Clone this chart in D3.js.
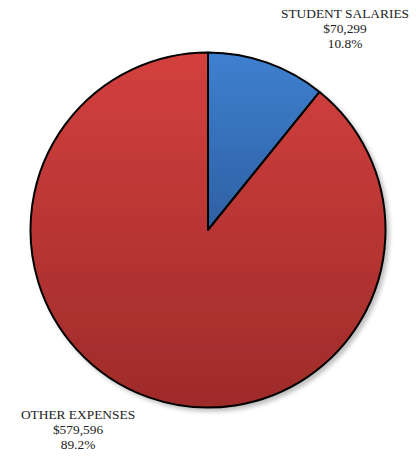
<!DOCTYPE html>
<html>
<head>
<meta charset="utf-8">
<script src="https://cdn.jsdelivr.net/npm/d3@7"></script>
<style>
  html, body { margin: 0; padding: 0; background: #fff; }
  svg { display: block; }
  text { font-family: "Liberation Serif", "Times New Roman", serif; fill: #222; }
</style>
</head>
<body>
<svg id="chart" width="416" height="458"></svg>
<script>
// Expense breakdown
const categories = ["STUDENT SALARIES", "OTHER EXPENSES"];
const amounts = [70299, 579596];
const percentLabels = ["10.8%", "89.2%"];
const amountLabels = ["$70,299", "$579,596"];

const width = 416, height = 458;
const cx = 208, cy = 230, radius = 177.5;

const svg = d3.select("#chart");
const defs = svg.append("defs");

// Vertical shading for each slice: lighter at the top, darker at the bottom
const shades = [
  { id: "gradBlue", top: "#3e80d0", bottom: "#2e60a2" },
  { id: "gradRed", top: "#d3403e", bottom: "#9e2b2a" }
];
shades.forEach(s => {
  const g = defs.append("linearGradient")
    .attr("id", s.id)
    .attr("x1", 0).attr("y1", 0).attr("x2", 0).attr("y2", 1);
  g.append("stop").attr("offset", "0%").attr("stop-color", s.top);
  g.append("stop").attr("offset", "100%").attr("stop-color", s.bottom);
});

const shadow = defs.append("filter").attr("id", "shadow")
  .attr("x", "-10%").attr("y", "-10%").attr("width", "120%").attr("height", "120%");
shadow.append("feDropShadow")
  .attr("dx", 3).attr("dy", 3).attr("stdDeviation", 2)
  .attr("flood-color", "#000").attr("flood-opacity", 0.25);

const pie = d3.pie().sort(null).value(d => d);
const arc = d3.arc().innerRadius(0).outerRadius(radius);

const g = svg.append("g")
  .attr("transform", `translate(${cx},${cy})`)
  .attr("filter", "url(#shadow)");

g.selectAll("path")
  .data(pie(amounts))
  .join("path")
  .attr("d", arc)
  .attr("fill", (d, i) => `url(#${shades[i].id})`)
  .attr("stroke", "#000")
  .attr("stroke-width", 2)
  .attr("stroke-linejoin", "round");

// Slice labels placed outside the pie
const labelPos = [
  { x: 345, y: 18 },
  { x: 78, y: 419 }
];
const lineGap = 15;
categories.forEach((c, i) => {
  const t = svg.append("text")
    .attr("text-anchor", "middle")
    .attr("font-size", 13.4);
  [c, amountLabels[i], percentLabels[i]].forEach((line, k) => {
    t.append("tspan")
      .attr("x", labelPos[i].x)
      .attr("y", labelPos[i].y + k * lineGap)
      .text(line);
  });
});
</script>
</body>
</html>
